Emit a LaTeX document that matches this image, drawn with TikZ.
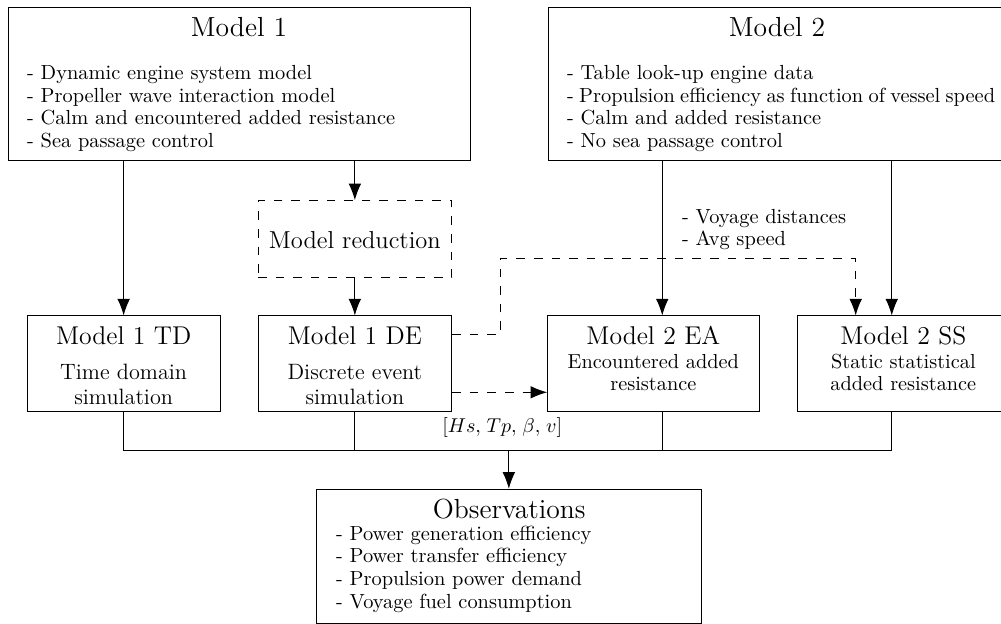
\documentclass[tikz,border=0pt]{standalone}
\usetikzlibrary{arrows.meta,calc}
\begin{document}
\begin{tikzpicture}[x=0.5pt,y=-0.5pt,
  box/.style={draw, line width=0.5pt, inner sep=0pt},
  dbox/.style={box, dash pattern=on 4.3pt off 4.5pt},
  conn/.style={line width=0.5pt},
  arr/.style={line width=0.5pt, -{Latex[length=8.3pt,width=6.3pt]}},
  darr/.style={arr, dash pattern=on 4.3pt off 4.5pt},
  txt/.style={inner sep=0pt, anchor=base},
  bigtitle/.style={txt, font=\fontsize{13.8}{16}\selectfont},
  boxtitle/.style={txt, font=\fontsize{12.85}{15}\selectfont},
  redtitle/.style={txt, font=\fontsize{12.25}{14}\selectfont},
  subA/.style={txt, font=\fontsize{11.1}{12.85}\selectfont},
  subB/.style={txt, font=\fontsize{10.15}{11.15}\selectfont},
  body/.style={inner sep=0pt, anchor=base west, align=left, font=\fontsize{10.2}{11.4}\selectfont}
]
\useasboundingbox (0,0) rectangle (1001,624);
\clip (0,0) rectangle (1001,624);

% boxes
\node[box, minimum width=231pt, minimum height=76.5pt] (m1) at (239,84.5) {};
\node[box, minimum width=229pt, minimum height=76.5pt] (m2) at (777,84.5) {};
\node[dbox, minimum width=96.85pt, minimum height=38.5pt] (mr) at (354.85,239.2) {};
\node[box, minimum width=96.35pt, minimum height=48pt] (td) at (123.65,364) {};
\node[box, minimum width=96.85pt, minimum height=48pt] (de) at (354.85,364) {};
\node[box, minimum width=105.65pt, minimum height=48pt] (ea) at (653.35,364) {};
\node[box, minimum width=105.65pt, minimum height=48pt] (ss) at (903.35,364) {};
\node[box, minimum width=192.85pt, minimum height=67.1pt] (obs) at (508.85,556.4) {};

% texts (multi-line nodes: base anchor = last line)
\node[bigtitle] (m1t) at (239,36.7) {Model 1};
\node[body] (m1l) at (26.7,147.7) {- Dynamic engine system model\\- Propeller wave interaction model\\- Calm and encountered added resistance\\- Sea passage control};
\node[bigtitle] (m2t) at (777,36.7) {Model 2};
\node[body] (m2l) at (566.7,147.7) {- Table look-up engine data\\\hbox to 214pt{- Propulsion efficiency as function of vessel speed}\\- Calm and added resistance\\- No sea passage control};
\node[redtitle] (mrt) at (354.85,248.3) {Model reduction};
\node[boxtitle] (tdt) at (123.65,345) {Model 1 TD};
\node[subA] (tds1) at (123.65,379.3) {Time domain};
\node[subA] (tds2) at (123.65,405) {simulation};
\node[boxtitle] (det) at (354.85,345) {Model 1 DE};
\node[subA] (des1) at (354.85,379.3) {Discrete event};
\node[subA] (des2) at (354.85,405) {simulation};
\node[boxtitle] (eat) at (653.35,345) {Model 2 EA};
\node[subB] (eas1) at (653.35,368.3) {Encountered added};
\node[subB] (eas2) at (653.35,390.7) {resistance};
\node[boxtitle] (sst) at (903.35,345) {Model 2 SS};
\node[subB] (sss1) at (903.35,368.3) {Static statistical};
\node[subB] (sss2) at (903.35,390.7) {added resistance};
\node[bigtitle] (obst) at (509.2,518.3) {Observations};
\node[body] (obsl) at (335.7,608.5) {- Power generation efficiency\\- Power transfer efficiency\\- Propulsion power demand\\- Voyage fuel consumption};
\node[body] (voy) at (681.7,246) {- Voyage distances\\- Avg speed};
\node[txt, font=\fontsize{10.2}{11.4}\selectfont] (env) at (502.2,433) {$[Hs,\hspace{1.2pt} Tp,\hspace{1.2pt} \beta,\hspace{1.2pt} v]$};

% helper coordinates
\coordinate (m2a) at ($(m2.south west)!0.25!(m2.south east)$);
\coordinate (m2b) at ($(m2.south west)!0.75!(m2.south east)$);
\coordinate (bus) at (0,450.7);
\coordinate (ssin) at (855.7,0);
\coordinate (turn) at (500,258.3);

% solid connectors
\draw[arr] (m1.south -| td.north) -- (td.north);
\draw[arr] (m1.south -| mr.north) -- (mr.north);
\draw[arr] (mr.south) -- (de.north);
\draw[arr] (m2a) -- (m2a |- ea.north);
\draw[arr] (m2b) -- (m2b |- ss.north);

% bus to observations
\draw[conn] (td.south) -- (td.south |- bus) -- (m2b |- bus) -- (m2b |- ss.south);
\draw[conn] (de.south) -- (de.south |- bus);
\draw[conn] (m2a |- ea.south) -- (m2a |- bus);
\draw[arr] (obs.north |- bus) -- (obs.north);

% dashed connectors
\draw[darr] ([yshift=14.5pt]de.east) -| (turn) -| (ssin |- ss.north);
\draw[darr] ([yshift=-14.15pt]de.east) -- ([yshift=-14.15pt]de.east -| ea.west);
\end{tikzpicture}
\end{document}
